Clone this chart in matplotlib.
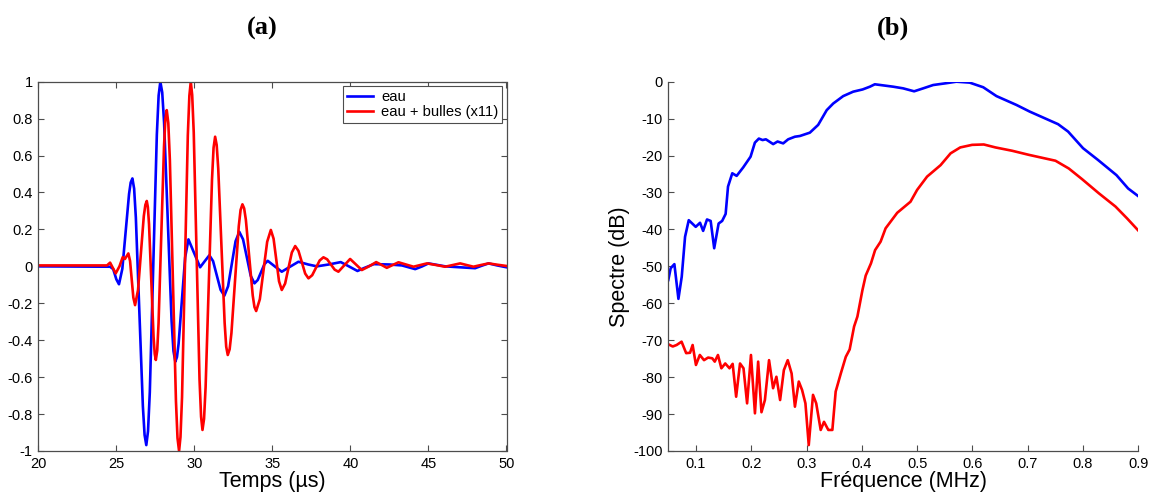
import matplotlib
matplotlib.use("Agg")
import matplotlib.pyplot as plt

plt.rcParams["font.family"] = ["Liberation Sans", "DejaVu Sans"]
plt.rcParams["axes.unicode_minus"] = False

# ── (a) time signals ───────────────────────────────────────────────────────────
t_eau = [20, 24.6, 24.8, 25.0, 25.17, 25.385, 25.6, 25.815, 25.92, 26.03, 26.14,
         26.25, 26.475, 26.70, 26.81, 26.92, 27.03, 27.145, 27.37, 27.595, 27.71,
         27.82, 27.94, 28.06, 28.30, 28.54, 28.66, 28.78, 28.885, 28.99, 29.2,
         29.41, 29.62, 29.995, 30.37, 30.665, 30.96, 31.2, 31.44,
         31.68, 31.92, 32.16, 32.4, 32.64, 32.88, 33.12, 33.365, 33.61, 33.85,
         34.06, 34.275, 34.49, 34.70, 35.15, 35.6, 36.13, 36.67, 37.3, 37.85,
         38.6, 39.38, 39.9, 40.45, 40.85, 41.5, 42.5, 43.3, 44.15, 44.6, 45.0,
         46.07, 47.0, 47.99, 48.4, 48.85, 49.4, 50]
v_eau = [0, -0.002, -0.015, -0.07, -0.097, -0.013, 0.19, 0.392, 0.454, 0.476, 0.421,
         0.265, -0.246, -0.757, -0.913, -0.968, -0.893, -0.681, 0.016, 0.713, 0.925,
         1.0, 0.942, 0.779, 0.242, -0.295, -0.458, -0.516, -0.491, -0.419, -0.185,
         0.049, 0.146, 0.07, -0.005, 0.028, 0.06, 0.028, -0.05,
         -0.127, -0.159, -0.108, 0.014, 0.136, 0.187, 0.146, 0.048, -0.051, -0.092,
         -0.074, -0.031, 0.012, 0.03, 0.0, -0.029, -0.002, 0.025, 0.01, 0.0,
         0.01, 0.023, 0.0, -0.025, -0.01, 0.012, 0.01, 0.005, -0.015, 0.0, 0.016,
         0.0, -0.005, -0.01, 0.003, 0.016, 0.005, -0.005]

t_bulles = [20, 24.4, 24.6, 24.96, 25.2, 25.41, 25.55, 25.77, 25.88, 25.985, 26.09,
            26.2, 26.39, 26.575, 26.76, 26.86, 26.95, 27.02, 27.095, 27.24, 27.385,
            27.46, 27.53, 27.62, 27.705, 27.88, 28.055, 28.14, 28.23, 28.33, 28.43,
            28.625, 28.82, 28.92, 29.02, 29.11, 29.21, 29.395, 29.58, 29.68, 29.77,
            29.86, 29.96, 30.145, 30.33, 30.43, 30.52, 30.62, 30.72, 30.925, 31.13,
            31.23, 31.33, 31.43, 31.53, 31.735, 31.94, 32.04, 32.14, 32.26, 32.375,
            32.61, 32.845, 32.96, 33.08, 33.19, 33.3, 33.52, 33.74, 33.85,
            33.96, 34.195, 34.43, 34.665, 34.9, 35.075, 35.25, 35.425, 35.6, 35.815,
            36.03, 36.245, 36.46, 36.67, 36.885, 37.1, 37.31, 37.55, 37.79, 38.03,
            38.27, 38.51, 38.75, 38.99, 39.23, 39.6, 39.98, 40.355, 40.73, 41.19,
            41.65, 41.99, 42.33, 42.7, 43.08, 43.56, 44.04, 44.47, 44.9, 45.5,
            46.07, 46.55, 47.03, 47.45, 47.88, 48.35, 48.85, 49.4, 50]
v_bulles = [0.005, 0.005, 0.02, -0.038, 0.0, 0.05, 0.04, 0.07, 0.029, -0.07, -0.169,
            -0.21, -0.128, 0.072, 0.272, 0.333, 0.354, 0.321, 0.228, -0.077, -0.381,
            -0.474, -0.507, -0.456, -0.309, 0.17, 0.648, 0.795, 0.846, 0.776, 0.576,
            -0.077, -0.73, -0.93, -1.0, -0.924, -0.708, 0.0, 0.708, 0.924, 1.0,
            0.928, 0.725, 0.057, -0.611, -0.814, -0.886, -0.826, -0.654, -0.092, 0.47,
            0.642, 0.702, 0.657, 0.529, 0.111, -0.307, -0.435, -0.48, -0.449, -0.361,
            -0.072, 0.217, 0.305, 0.336, 0.314, 0.252, 0.047, -0.158, -0.22,
            -0.242, -0.178, -0.022, 0.133, 0.197, 0.15, 0.035, -0.081, -0.128, -0.093,
            -0.009, 0.075, 0.11, 0.084, 0.023, -0.039, -0.065, -0.048, -0.008, 0.032,
            0.049, 0.038, 0.01, -0.018, -0.029, 0.005, 0.04, 0.01, -0.02, 0.0,
            0.023, 0.008, -0.008, 0.007, 0.022, 0.01, -0.002, 0.007, 0.016, 0.007,
            -0.002, 0.007, 0.016, 0.007, -0.002, 0.007, 0.016, 0.009, 0.002]

# ── (b) spectra ───────────────────────────────────────────────────────────────
f_eau = [0.05, 0.0543, 0.061, 0.0683, 0.0743, 0.0803, 0.087, 0.0996, 0.1074,
         0.113, 0.12, 0.1266, 0.133, 0.141, 0.1474, 0.1537, 0.158, 0.1657,
         0.1736, 0.1855, 0.1988, 0.2066, 0.2138, 0.2205, 0.2265, 0.2397, 0.2476,
         0.2578, 0.2668, 0.2789, 0.288, 0.306, 0.321, 0.3365, 0.3483, 0.3663,
         0.3844, 0.4014, 0.4146, 0.4235, 0.4566, 0.4747, 0.4946, 0.511, 0.529,
         0.553, 0.571, 0.595, 0.6195, 0.6435, 0.6797, 0.7037, 0.7308, 0.7549,
         0.773, 0.8, 0.8272, 0.8605, 0.8815, 0.9]
s_eau = [-53.7, -50.5, -49.4, -58.8, -52.8, -42, -37.5, -39.3, -38.2,
         -40.4, -37.3, -37.7, -45.1, -38.4, -37.7, -35.8, -28.4, -24.8,
         -25.5, -23.2, -20.3, -16.5, -15.4, -15.8, -15.6, -16.9, -16.2,
         -16.7, -15.6, -14.9, -14.7, -13.8, -11.7, -7.7, -5.9, -3.9,
         -2.7, -2.1, -1.35, -0.7, -1.35, -1.8, -2.6, -1.8, -0.9,
         -0.4, 0.0, -0.25, -1.5, -3.9, -6.3, -8.1, -9.9, -11.5,
         -13.5, -18.0, -21.2, -25.3, -28.9, -31.0]

f_bulles = [0.05, 0.058, 0.065, 0.074, 0.0823, 0.0893, 0.094, 0.1, 0.107, 0.1146,
            0.122, 0.1295, 0.134, 0.1398, 0.146, 0.153, 0.1607, 0.1664, 0.1727,
            0.1797, 0.186, 0.1925, 0.1995, 0.2067, 0.2125, 0.2185, 0.2247, 0.2322,
            0.2395, 0.2455, 0.2522, 0.259, 0.266, 0.273, 0.279, 0.286, 0.292,
            0.298, 0.304, 0.3117, 0.3175, 0.3256, 0.3316, 0.3394, 0.3467, 0.3527,
            0.362, 0.371, 0.378, 0.386, 0.392, 0.401, 0.407, 0.4165, 0.424,
            0.434, 0.443, 0.464, 0.488, 0.5, 0.518, 0.5424, 0.5605, 0.578,
            0.5995, 0.6206, 0.6417, 0.6718, 0.7019, 0.726, 0.7502, 0.7743,
            0.7984, 0.8285, 0.8587, 0.8796, 0.9]
s_bulles = [-71.1, -71.7, -71.3, -70.4, -73.5, -73.4, -71.3, -76.7, -74, -75.4,
            -74.7, -74.9, -75.8, -74, -77.6, -76.3, -77.6, -76.4, -85.3,
            -76.3, -77.6, -87.1, -74, -89.8, -75.8, -89.5, -86.2, -75.4,
            -83, -79.9, -86.2, -78.1, -75.4, -79, -88, -81.2, -83.5,
            -87.1, -98.4, -84.8, -87.1, -94.3, -92.1, -94.3, -94.3, -83.9,
            -79, -74.5, -72.5, -66.3, -63.6, -56.5, -52.5, -49.2, -45.6,
            -43.3, -39.7, -35.5, -32.5, -29.3, -25.7, -22.6, -19.4, -17.8,
            -17.1, -17.0, -17.8, -18.7, -19.8, -20.6, -21.4, -23.5,
            -26.4, -30.2, -33.8, -37.0, -40.3]

t_ticks = [20, 25, 30, 35, 40, 45, 50]
v_ticks = [-1, -0.8, -0.6, -0.4, -0.2, 0, 0.2, 0.4, 0.6, 0.8, 1]
v_labels = ["-1", "-0.8", "-0.6", "-0.4", "-0.2", "0", "0.2", "0.4", "0.6", "0.8", "1"]
f_ticks = [0.1, 0.2, 0.3, 0.4, 0.5, 0.6, 0.7, 0.8, 0.9]
f_labels = ["0.1", "0.2", "0.3", "0.4", "0.5", "0.6", "0.7", "0.8", "0.9"]
s_ticks = [-100, -90, -80, -70, -60, -50, -40, -30, -20, -10, 0]

# ── plot ──────────────────────────────────────────────────────────────────────
W, H = 1149, 495
fig = plt.figure(figsize=(W / 100, H / 100), dpi=100)
edge = "#4d4d4d"
lw = 1.9
tick_fs = 10.5
label_fs = 15.5

ax_a = fig.add_axes([38.3 / W, 1 - 451 / H, 468.2 / W, 369.3 / H])
ax_a.plot(t_eau, v_eau, color="#0000ff", lw=lw, label="eau")
ax_a.plot(t_bulles, v_bulles, color="#ff0000", lw=lw, label="eau + bulles (x11)")
ax_a.set_xlim(20, 50)
ax_a.set_ylim(-1, 1)
ax_a.set_xticks(t_ticks)
ax_a.set_yticks(v_ticks)
ax_a.set_yticklabels(v_labels)
ax_a.tick_params(direction="in", length=4, width=0.8, color=edge, labelsize=tick_fs,
                 top=True, right=True, pad=4)
for s in ax_a.spines.values():
    s.set_color(edge)
    s.set_linewidth(0.9)
ax_a.set_xlabel("Temps (µs)", fontsize=label_fs, labelpad=0)
leg = ax_a.legend(loc="upper right", fontsize=10.6, fancybox=False, framealpha=1,
                  edgecolor=edge, handlelength=1.8, handletextpad=0.55,
                  borderpad=0.25, labelspacing=0.1, borderaxespad=0.3)
leg.get_frame().set_linewidth(0.8)

ax_b = fig.add_axes([668.3 / W, 1 - 451 / H, 470 / W, 369.3 / H])
ax_b.plot(f_eau, s_eau, color="#0000ff", lw=lw)
ax_b.plot(f_bulles, s_bulles, color="#ff0000", lw=lw)
ax_b.set_xlim(0.05, 0.9)
ax_b.set_ylim(-100, 0)
ax_b.set_xticks(f_ticks)
ax_b.set_xticklabels(f_labels)
ax_b.set_yticks(s_ticks)
ax_b.tick_params(direction="in", length=4, width=0.8, color=edge, labelsize=tick_fs, pad=4)
ax_b.spines["top"].set_visible(False)
ax_b.spines["right"].set_visible(False)
for s in ("left", "bottom"):
    ax_b.spines[s].set_color(edge)
    ax_b.spines[s].set_linewidth(0.9)
ax_b.set_xlabel("Fréquence (MHz)", fontsize=label_fs, labelpad=0)
ax_b.set_ylabel("Spectre (dB)", fontsize=label_fs, labelpad=2)

fig.text(262 / W, 1 - 28 / H, "(a)", ha="center", va="center", fontsize=19,
         fontweight="bold", family=["Liberation Serif", "DejaVu Serif"])
fig.text(893 / W, 1 - 28 / H, "(b)", ha="center", va="center", fontsize=19,
         fontweight="bold", family=["Liberation Serif", "DejaVu Serif"])

fig.savefig("out.png", dpi=100)
